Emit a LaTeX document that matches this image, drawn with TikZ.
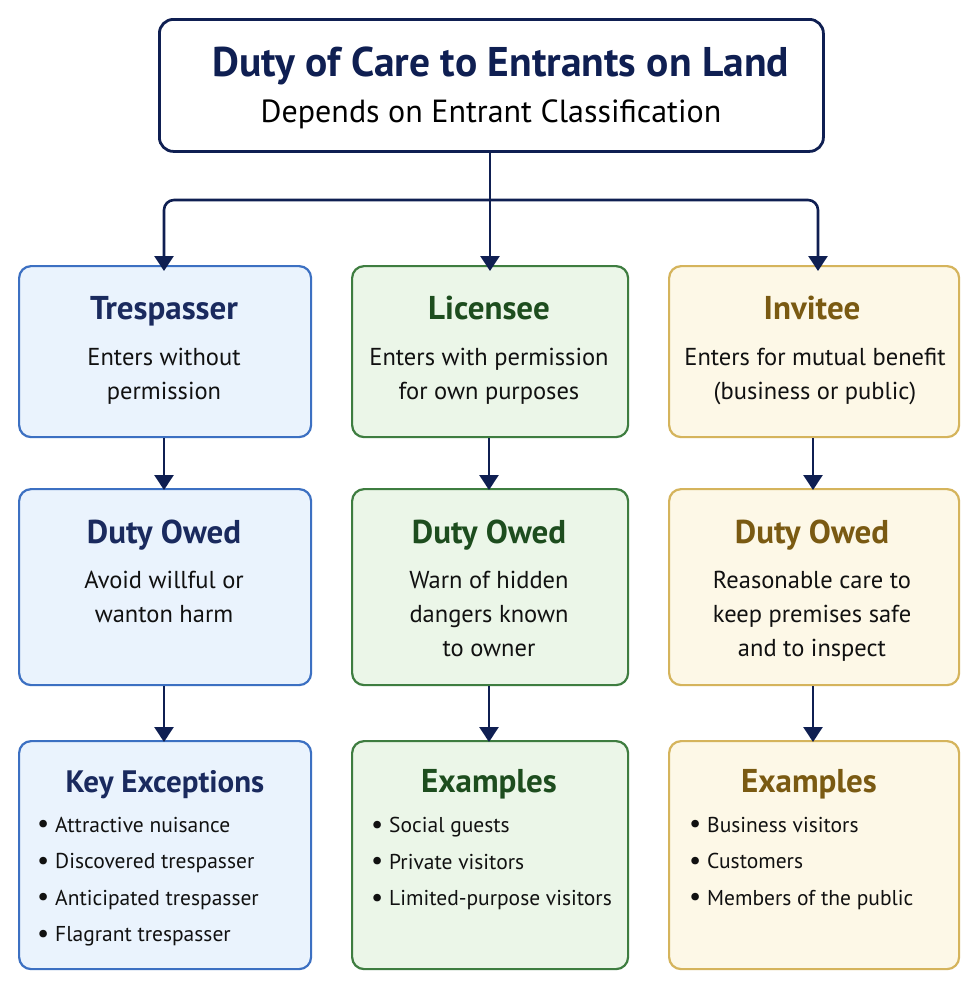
\documentclass[tikz,border=0pt]{standalone}
\usepackage{fontspec}
\setmainfont{PT Sans}
\usetikzlibrary{arrows.meta}
\definecolor{navy}{HTML}{0F1F52}
\definecolor{bluebd}{HTML}{3C70C2}
\definecolor{bluefill}{HTML}{EAF3FD}
\definecolor{bluetx}{HTML}{1A2A5E}
\definecolor{greenbd}{HTML}{3E7D40}
\definecolor{greenfill}{HTML}{EBF6E8}
\definecolor{greentx}{HTML}{1D4D1E}
\definecolor{goldbd}{HTML}{D5B45C}
\definecolor{goldfill}{HTML}{FDF8E7}
\definecolor{goldtx}{HTML}{7A5A12}
\definecolor{bodytx}{HTML}{111111}
\tikzset{
  x=1pt,y=-1pt,
  box/.style={draw, line width=2.2pt, rounded corners=12pt, inner sep=0pt},
  bluebox/.style={box, draw=bluebd, fill=bluefill},
  greenbox/.style={box, draw=greenbd, fill=greenfill},
  goldbox/.style={box, draw=goldbd, fill=goldfill},
  ttl/.style={font=\fontsize{33}{36}\selectfont\bfseries, inner sep=0pt, anchor=base},
  bodyt/.style={font=\fontsize{24.5}{34}\selectfont, text=bodytx, align=center, inner sep=0pt, anchor=north},
  listt/.style={font=\fontsize{21.5}{36.5}\selectfont, text=bodytx, align=left, inner sep=0pt, anchor=north west},
  arr/.style={draw=navy, line width=2.6pt, -{Triangle[length=15pt,width=19pt]}},
}
\newcommand{\bul}{\makebox[18pt][l]{\raisebox{-0.5pt}{\fontsize{27}{0}\selectfont •}}}
\begin{document}
\begin{tikzpicture}
\useasboundingbox[fill=white] (0,0) rectangle (977,986);
% title
\node[draw=navy, line width=2.8pt, rounded corners=14pt, minimum width=664pt, minimum height=132pt, anchor=north west, fill=white] (top) at (158,18) {};
\node[font=\fontsize{41.5}{44}\selectfont\bfseries, text=navy, anchor=base, inner sep=0pt] (toptitle) at (501,76) {Duty of Care to Entrants on Land};
\node[font=\fontsize{32}{36}\selectfont, text=black, anchor=base, inner sep=0pt] (topsub) at (491,122) {Depends on Entrant Classification};

% column boxes
\node[bluebox, minimum width=292pt, minimum height=171pt, anchor=north west] (t1) at (18,265) {};
\node[greenbox, minimum width=276pt, minimum height=171pt, anchor=north west] (t2) at (351,265) {};
\node[goldbox, minimum width=290pt, minimum height=171pt, anchor=north west] (t3) at (668,265) {};

\node[bluebox, minimum width=292pt, minimum height=196pt, anchor=north west] (d1) at (18,488) {};
\node[greenbox, minimum width=276pt, minimum height=196pt, anchor=north west] (d2) at (351,488) {};
\node[goldbox, minimum width=290pt, minimum height=196pt, anchor=north west] (d3) at (668,488) {};

\node[bluebox, minimum width=292pt, minimum height=228pt, anchor=north west] (e1) at (18,740) {};
\node[greenbox, minimum width=276pt, minimum height=228pt, anchor=north west] (e2) at (351,740) {};
\node[goldbox, minimum width=290pt, minimum height=228pt, anchor=north west] (e3) at (668,740) {};

% row 1 text
\node[ttl, text=bluetx] (t1h) at (164,319) {Trespasser};
\node[bodyt] (t1b) at (164,348) {Enters without\\permission};
\node[ttl, text=greentx] (t2h) at (489,319) {Licensee};
\node[bodyt] (t2b) at (489,348) {Enters with permission\\for own purposes};
\node[ttl, text=goldtx] (t3h) at (812,319) {Invitee};
\node[bodyt] (t3b) at (815,348) {Enters for mutual benefit\\(business or public)};

% row 2 text
\node[ttl, text=bluetx] (d1h) at (164,543) {Duty Owed};
\node[bodyt] (d1b) at (164,571) {Avoid willful or\\wanton harm};
\node[ttl, text=greentx] (d2h) at (489,543) {Duty Owed};
\node[bodyt] (d2b) at (489,571) {Warn of hidden\\dangers known\\to owner};
\node[ttl, text=goldtx] (d3h) at (812,543) {Duty Owed};
\node[bodyt] (d3b) at (812,571) {Reasonable care to\\keep premises safe\\and to inspect};

% row 3 text
\node[ttl, text=bluetx, font=\fontsize{31}{36}\selectfont\bfseries] (e1h) at (165,792) {Key Exceptions};
\node[listt] (e1b) at (37,817) {\bul Attractive nuisance\\\bul Discovered trespasser\\\bul Anticipated trespasser\\\bul Flagrant trespasser};
\node[ttl, text=greentx] (e2h) at (489,792) {Examples};
\node[listt] (e2b) at (371,817) {\bul Social guests\\\bul Private visitors\\\bul Limited-purpose visitors};
\node[ttl, text=goldtx] (e3h) at (809,792) {Examples};
\node[listt] (e3b) at (689,817) {\bul Business visitors\\\bul Customers\\\bul Members of the public};

% connectors
\coordinate (split) at (490,200);
\draw[arr] (top.south -| split) -- (split) -- ([yshift=-6pt]t2.north -| split);
\draw[arr, rounded corners=10pt] (split) -| ([yshift=-6pt]t1.north -| 164,0);
\draw[arr, rounded corners=10pt] (split) -| ([yshift=-6pt]t3.north -| 818,0);
\draw[arr] (t1.south -| 164,0) -- ([yshift=-2pt]d1.north -| 164,0);
\draw[arr] (t2.south -| 489,0) -- ([yshift=-2pt]d2.north -| 489,0);
\draw[arr] (t3.south -| 813,0) -- ([yshift=-2pt]d3.north -| 813,0);
\draw[arr] (d1.south -| 164,0) -- ([yshift=-2pt]e1.north -| 164,0);
\draw[arr] (d2.south -| 489,0) -- ([yshift=-2pt]e2.north -| 489,0);
\draw[arr] (d3.south -| 813,0) -- ([yshift=-2pt]e3.north -| 813,0);
\end{tikzpicture}
\end{document}
